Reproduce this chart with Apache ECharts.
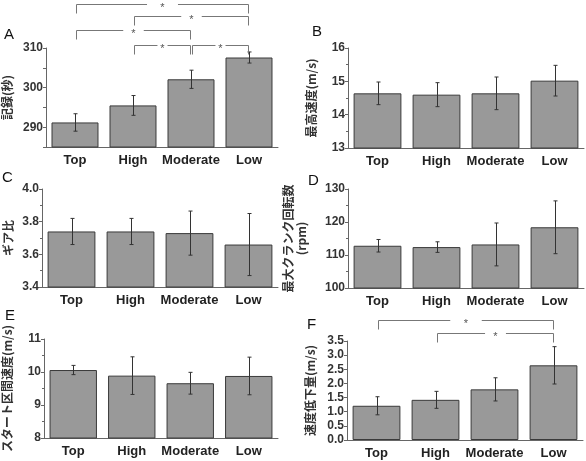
<!DOCTYPE html>
<html>
<head>
<meta charset="utf-8">
<script src="https://cdn.jsdelivr.net/npm/echarts@6/dist/echarts.min.js"></script>
<style>
  html, body { margin: 0; padding: 0; background: #fff; }
  #main { width: 586px; height: 461px; }
</style>
</head>
<body>
<div id="main"></div>
<script>
const groups = ['Top', 'High', 'Moderate', 'Low'];

// A: 記録（秒）
const recordMean = [291.2, 295.5, 302.1, 307.6];
const recordSd = [2.2, 2.5, 2.3, 1.4];
// B: 最高速度
const topSpeedMean = [14.64, 14.60, 14.64, 15.02];
const topSpeedSd = [0.34, 0.36, 0.49, 0.46];
// C: ギア比
const gearMean = [3.74, 3.74, 3.73, 3.66];
const gearSd = [0.08, 0.08, 0.135, 0.19];
// D: 最大クランク回転数
const cadenceMean = [112.8, 112.4, 113.2, 118.4];
const cadenceSd = [1.9, 1.6, 6.5, 8.0];
// E: スタート区間速度
const startSpeedMean = [10.06, 9.89, 9.66, 9.88];
const startSpeedSd = [0.14, 0.57, 0.33, 0.57];
// F: 速度低下量
const dropMean = [1.21, 1.42, 1.79, 2.64];
const dropSd = [0.32, 0.30, 0.41, 0.66];

// significance brackets: [from group, to group, bracket height in axis units]
const recordBrackets = [[0, 3, 321.1], [1, 3, 318.1], [0, 2, 314.6], [1, 2, 310.8], [2, 3, 310.8]];
const dropBrackets = [[0, 3, 4.24], [1, 3, 3.78]];

const latin = '"Liberation Sans", Arial, sans-serif';
const cjk = '"Noto Sans CJK JP", sans-serif';
const axisColor = '#666';

const chart = echarts.init(document.getElementById('main'));

const panels = [
    { grid: { left: 42, top: 48, width: 236, height: 99 }, name: '記録(秒)', min: 285, max: 310, interval: 5, gap: 32,
      fmt: v => (v % 10 === 0 ? String(v) : ''), minor: false, mean: recordMean, sd: recordSd },
    { grid: { left: 348, top: 48, width: 236, height: 100 }, name: '最高速度(m/s)', min: 13, max: 16, interval: 1, gap: 30,
      fmt: v => String(v), minor: true, mean: topSpeedMean, sd: topSpeedSd },
    { grid: { left: 42, top: 189, width: 236, height: 98 }, name: 'ギア比', min: 3.4, max: 4.0, interval: 0.2, gap: 27,
      fmt: v => v.toFixed(1), minor: true, mean: gearMean, sd: gearSd },
    { grid: { left: 348, top: 189, width: 236, height: 99 }, name: '最大クランク回転数\n(rpm)', min: 100, max: 130, interval: 10, gap: 40,
      fmt: v => String(v), minor: true, mean: cadenceMean, sd: cadenceSd },
    { grid: { left: 42, top: 339, width: 236, height: 99 }, name: 'スタート区間速度(m/s)', min: 8, max: 11, interval: 1, gap: 30,
      fmt: v => String(v), minor: true, mean: startSpeedMean, sd: startSpeedSd },
    { grid: { left: 347, top: 341, width: 236, height: 99 }, name: '速度低下量(m/s)', min: 0, max: 3.5, interval: 0.5, gap: 30,
      fmt: v => v.toFixed(1), minor: false, mean: dropMean, sd: dropSd }
];

function renderErrorBar(params, api) {
    const i = api.value(0);
    const m = api.value(1);
    const s = api.value(2);
    const top = api.coord([i, m + s]);
    const bot = api.coord([i, m - s]);
    const x = Math.round(top[0]) + 0.5;
    const w = 2;
    const style = { stroke: '#333', lineWidth: 1 };
    return {
        type: 'group',
        children: [
            { type: 'line', shape: { x1: x, y1: top[1], x2: x, y2: bot[1] }, style: style },
            { type: 'line', shape: { x1: x - w, y1: top[1], x2: x + w, y2: top[1] }, style: style },
            { type: 'line', shape: { x1: x - w, y1: bot[1], x2: x + w, y2: bot[1] }, style: style }
        ]
    };
}

function renderBracket(params, api) {
    const a = api.coord([api.value(0), api.value(2)]);
    const b = api.coord([api.value(1), api.value(2)]);
    const x1 = Math.round(a[0] + 1) + 0.5;
    const x2 = Math.round(b[0] - 1) + 0.5;
    const y = Math.round(a[1]) + 0.5;
    const leg = 9;
    const mid = (x1 + x2) / 2;
    const half = (x2 - x1) * 0.09;
    const style = { stroke: '#777', lineWidth: 1, fill: null };
    return {
        type: 'group',
        children: [
            { type: 'polyline', shape: { points: [[x1, y + leg], [x1, y], [mid - half, y]] }, style: style },
            { type: 'polyline', shape: { points: [[mid + half, y], [x2, y], [x2, y + leg]] }, style: style },
            { type: 'text', x: mid, y: y + 3, style: { text: '*', fill: '#555', font: '11px ' + latin, align: 'center', verticalAlign: 'middle' } }
        ]
    };
}

const grids = [];
const xAxes = [];
const yAxes = [];
const series = [];

panels.forEach((p, k) => {
    grids.push(p.grid);
    xAxes.push({
        type: 'category', gridIndex: k, data: groups,
        axisLine: { lineStyle: { color: axisColor } },
        axisTick: { show: false },
        axisLabel: { color: '#222', fontSize: 13, fontWeight: 'bold', fontFamily: latin, margin: 7, interval: 0 }
    });
    yAxes.push({
        type: 'value', gridIndex: k, min: p.min, max: p.max, interval: p.interval,
        name: p.name, nameLocation: 'middle', nameRotate: 90, nameGap: p.gap,
        nameTextStyle: { color: '#333', fontSize: 12, fontWeight: 'bold', fontFamily: cjk, lineHeight: 13 },
        axisLine: { show: true, lineStyle: { color: axisColor } },
        axisTick: { show: true, length: 3, lineStyle: { color: axisColor } },
        minorTick: { show: p.minor, splitNumber: 2, length: 2, lineStyle: { color: axisColor } },
        splitLine: { show: false },
        axisLabel: { color: '#333', fontSize: 12, fontWeight: 'bold', fontFamily: latin, margin: 3, formatter: p.fmt }
    });
    series.push({
        type: 'bar', xAxisIndex: k, yAxisIndex: k, data: p.mean,
        barCategoryGap: '19%', silent: true,
        itemStyle: { color: '#999999', borderColor: '#3a3a3a', borderWidth: 1 }
    });
    series.push({
        type: 'custom', xAxisIndex: k, yAxisIndex: k, silent: true, z: 5,
        data: p.mean.map((m, i) => [i, m, p.sd[i]]),
        encode: { x: 0, y: 1 },
        renderItem: renderErrorBar
    });
});

series.push({
    type: 'custom', xAxisIndex: 0, yAxisIndex: 0, silent: true, clip: false, z: 6,
    data: recordBrackets, encode: { x: 0, y: 2 }, renderItem: renderBracket
});
series.push({
    type: 'custom', xAxisIndex: 5, yAxisIndex: 5, silent: true, clip: false, z: 6,
    data: dropBrackets, encode: { x: 0, y: 2 }, renderItem: renderBracket
});

const letters = [['A', 4, 35], ['B', 312, 32], ['C', 2, 178], ['D', 308, 181], ['E', 5, 316], ['F', 307, 325]];

chart.setOption({
    animation: false,
    backgroundColor: '#fff',
    grid: grids,
    xAxis: xAxes,
    yAxis: yAxes,
    series: series,
    graphic: letters.map(l => ({
        type: 'text', x: l[1], y: l[2],
        style: { text: l[0], fill: '#111', font: '15px ' + latin, verticalAlign: 'middle' }
    }))
});
</script>
</body>
</html>
